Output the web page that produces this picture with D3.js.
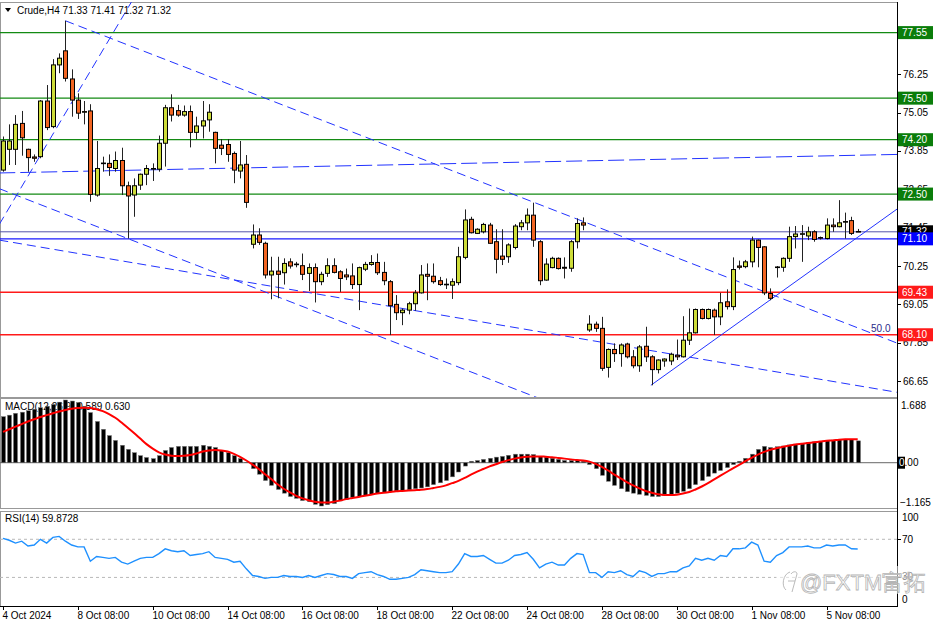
<!DOCTYPE html>
<html><head><meta charset="utf-8">
<script src="https://cdn.jsdelivr.net/npm/d3@7"></script>
<style>body{margin:0;background:#fff;}svg{display:block;font-family:"Liberation Sans",Arial,sans-serif;}</style>
</head><body><svg id="c" width="936" height="624"></svg>
<script>
// ---------- DATA ----------
const openV = [73.25,73.90,73.90,74.71,73.90,73.66,73.67,75.41,74.61,76.54,76.98,76.10,75.44,75.06,75.10,72.47,73.46,73.46,73.30,73.55,72.76,72.47,72.78,73.12,73.28,73.28,74.09,75.20,75.11,74.97,75.08,74.43,74.63,74.82,74.43,74.03,74.05,73.77,73.22,73.43,70.93,71.22,70.96,69.97,70.09,70.04,70.38,70.30,70.26,70.02,70.20,69.76,70.02,70.26,70.07,69.97,69.94,69.67,70.15,70.30,70.36,70.05,69.76,69.05,68.79,68.87,69.07,69.41,69.99,69.93,69.79,69.67,69.65,69.73,70.52,71.71,71.27,71.32,71.53,71.01,70.56,70.54,70.83,71.48,71.60,71.84,71.01,69.81,70.20,70.49,70.21,70.18,71.01,71.60,68.25,68.43,68.30,67.08,67.64,67.51,67.81,67.41,67.13,67.74,67.41,67.01,67.28,67.28,67.46,67.41,67.93,68.16,68.89,68.61,68.87,68.66,69.13,68.98,70.25,70.23,70.38,71.06,70.85,69.39,70.21,70.21,70.49,71.17,71.25,71.19,71.32,71.14,71.11,71.53,71.48,71.63,71.67,71.33];
const highV = [74.30,74.68,74.97,75.10,73.92,73.74,75.44,75.91,76.72,76.90,77.92,76.40,75.65,75.41,75.31,74.16,73.67,73.74,73.83,73.95,72.89,72.99,73.14,73.41,73.46,74.33,75.29,75.62,75.29,75.27,75.27,74.92,75.41,75.31,74.45,74.22,74.22,73.83,74.16,73.72,71.55,71.43,71.01,70.54,70.54,70.49,70.49,70.38,70.64,70.33,70.33,70.07,70.49,70.49,70.12,70.17,70.33,70.23,70.38,70.59,70.64,70.38,69.81,69.34,68.92,69.13,69.50,70.28,70.33,70.33,69.91,69.86,69.86,70.85,72.02,71.79,71.43,71.60,71.60,71.40,71.40,70.96,71.56,71.69,72.05,72.23,71.06,70.49,70.54,70.52,70.52,71.06,71.74,71.77,68.71,68.51,68.66,67.67,67.83,67.83,67.85,67.62,67.78,68.35,67.46,67.33,67.36,67.54,67.95,68.68,68.92,68.92,68.92,68.92,68.92,69.41,69.52,70.52,70.42,70.44,71.17,71.08,70.87,69.55,70.25,70.52,71.48,71.50,71.53,71.48,71.37,71.17,71.74,71.74,72.31,71.92,71.79,71.41];
const lowV = [73.20,73.41,73.41,73.70,73.20,73.51,73.62,74.50,74.56,76.28,76.02,74.92,74.85,74.68,72.26,72.42,73.20,73.07,73.20,72.47,71.11,71.79,72.63,72.78,72.91,73.20,73.36,74.77,74.92,74.92,73.96,74.22,74.24,74.45,73.46,73.72,73.51,72.84,72.99,72.07,70.80,70.91,69.86,69.21,69.24,69.67,70.17,70.21,69.81,69.47,69.11,69.65,69.91,70.02,69.44,69.81,69.53,68.87,70.09,70.26,69.97,69.65,68.09,68.56,68.40,68.74,68.85,69.39,69.18,69.70,69.63,69.53,69.22,69.65,70.46,71.27,71.25,71.27,70.94,70.02,70.28,70.35,70.77,71.37,71.37,70.85,69.65,69.79,70.18,70.14,69.86,70.07,70.80,71.37,68.19,68.19,66.97,66.76,67.25,67.10,67.36,67.05,66.94,67.25,66.52,66.89,67.10,67.15,67.31,67.39,67.78,68.14,68.58,68.58,68.09,68.40,68.89,68.87,70.14,70.18,70.21,70.21,69.34,69.18,69.89,70.07,70.38,70.80,70.38,71.06,71.01,71.08,71.08,71.32,71.46,71.11,71.22,71.32];
const closeV = [74.16,74.16,74.68,74.26,73.64,73.62,75.41,74.58,76.54,76.75,76.12,75.44,75.03,75.08,72.49,73.30,73.47,73.33,73.55,72.76,72.44,72.76,73.12,73.30,73.30,74.09,75.20,74.97,74.97,75.08,74.43,74.63,74.79,75.06,73.93,73.93,73.74,73.25,73.41,72.24,71.22,70.99,69.97,70.09,69.99,70.33,70.25,70.31,69.99,70.20,69.76,69.99,70.26,70.05,69.86,69.91,69.67,70.20,70.30,70.36,70.04,69.79,69.01,68.79,68.87,69.07,69.41,69.97,69.93,69.76,69.67,69.68,69.76,70.54,71.69,71.29,71.40,71.55,70.96,70.46,70.46,70.91,71.50,71.60,71.84,71.06,69.79,70.31,70.49,70.17,70.18,71.01,71.58,71.53,68.43,68.30,67.05,67.64,67.51,67.78,67.41,67.13,67.72,67.41,67.01,67.31,67.34,67.49,67.41,67.93,68.16,68.89,68.61,68.89,68.66,69.10,68.98,70.14,70.21,70.38,71.06,70.83,69.41,69.24,70.22,70.49,71.17,71.25,71.26,71.32,71.08,71.13,71.53,71.48,71.60,71.64,71.27,71.32];
const macdHist = [1.24,1.28,1.33,1.36,1.40,1.44,1.48,1.52,1.57,1.63,1.688,1.66,1.62,1.52,1.35,1.11,0.90,0.73,0.60,0.47,0.36,0.27,0.19,0.14,0.11,0.19,0.33,0.41,0.44,0.44,0.44,0.44,0.47,0.44,0.41,0.33,0.27,0.19,0.11,0.01,-0.16,-0.31,-0.48,-0.61,-0.72,-0.82,-0.91,-0.96,-1.02,-1.05,-1.12,-1.165,-1.13,-1.10,-1.03,-0.99,-0.93,-0.91,-0.88,-0.85,-0.82,-0.81,-0.77,-0.76,-0.75,-0.73,-0.70,-0.68,-0.65,-0.59,-0.54,-0.48,-0.38,-0.25,-0.09,0.04,0.06,0.09,0.12,0.15,0.17,0.20,0.23,0.23,0.23,0.22,0.17,0.15,0.12,0.09,0.06,0.06,0.06,0.04,-0.05,-0.16,-0.34,-0.50,-0.61,-0.70,-0.78,-0.82,-0.85,-0.88,-0.91,-0.91,-0.88,-0.85,-0.82,-0.77,-0.70,-0.59,-0.48,-0.37,-0.28,-0.21,-0.13,-0.05,0.04,0.12,0.23,0.36,0.44,0.41,0.43,0.45,0.48,0.50,0.52,0.54,0.56,0.57,0.59,0.61,0.62,0.63,0.62,0.589];
const macdSignal = [0.83,0.90,0.97,1.04,1.11,1.17,1.23,1.28,1.33,1.38,1.42,1.45,1.47,1.48,1.47,1.44,1.39,1.31,1.21,1.08,0.94,0.80,0.65,0.50,0.38,0.28,0.22,0.19,0.18,0.19,0.21,0.25,0.30,0.33,0.34,0.33,0.30,0.24,0.16,0.06,-0.05,-0.17,-0.31,-0.44,-0.58,-0.70,-0.80,-0.89,-0.96,-1.01,-1.05,-1.07,-1.07,-1.05,-1.02,-0.98,-0.95,-0.92,-0.89,-0.86,-0.83,-0.81,-0.79,-0.77,-0.76,-0.75,-0.74,-0.73,-0.71,-0.68,-0.65,-0.61,-0.55,-0.49,-0.41,-0.32,-0.24,-0.17,-0.10,-0.04,0.02,0.07,0.11,0.14,0.16,0.17,0.17,0.16,0.15,0.13,0.11,0.09,0.07,0.06,0.03,-0.03,-0.11,-0.21,-0.32,-0.42,-0.52,-0.61,-0.69,-0.76,-0.81,-0.85,-0.87,-0.87,-0.86,-0.83,-0.79,-0.72,-0.64,-0.55,-0.45,-0.35,-0.25,-0.15,-0.06,0.04,0.13,0.22,0.29,0.35,0.39,0.43,0.46,0.49,0.51,0.53,0.55,0.57,0.59,0.60,0.62,0.63,0.63,0.630];
const rsiV = [71,69,66,68,63,64,70,66,72,73,68,64,62,62,47,52,51,50,51,46,44,47,50,51,51,55,60,58,57,58,53,54,55,57,51,50,49,46,47,39,32,31,29,30,30,32,31,31,30,32,30,32,34,33,31,31,29,34,35,36,33,31,28,28,29,30,33,38,37,36,35,35,36,44,55,52,52,53,49,45,45,48,53,54,56,49,40,44,46,43,43,50,55,54,35,35,30,36,35,37,33,31,37,35,31,34,34,36,36,40,42,50,48,50,48,53,52,60,60,61,67,64,47,46,53,56,62,62,62,63,61,61,64,63,64,64,60,59.8728];
const xTickIdx = [0,12,24,36,48,60,72,84,96,108,120,132];
const xTickLabels = ["4 Oct 2024","8 Oct 08:00","10 Oct 08:00","14 Oct 08:00","16 Oct 08:00","18 Oct 08:00","22 Oct 08:00","24 Oct 08:00","28 Oct 08:00","30 Oct 08:00","1 Nov 08:00","5 Nov 08:00"];
const priceTicks = [66.65,67.85,69.05,70.25,71.45,72.65,73.85,75.05,76.25,77.45];
const resistanceLevels = [77.55,75.50,74.20,72.50];
const supportLevels = [69.43,68.10];
const pivotLevel = 71.10;
const bidPrice = 71.32;
const macdTicks = [1.688,0.00,-1.165];
const rsiTicks = [100,70,30,0];
const rsiLevels = [70,30];
// trendlines: [barIndex, price] pairs
const dashedLines = [
  [[10,77.92],[143.3,67.84]],
  [[-0.6,71.55],[23,79.3]],
  [[-0.6,73.16],[143.3,73.74]],
  [[-0.6,72.67],[92,65.65]],
  [[-0.6,71.06],[143.3,66.30]]
];
const solidLines = [[[103.85,66.52],[143.3,72.03]]];
const fibLabel = {idx:140.7, price:68.20, text:"50.0"};

// ---------- SETUP ----------
const svg = d3.select("#c");
const axisX = 897, FS = 10;
const x = d3.scaleLinear().domain([0, 143.3]).range([3, axisX]);
const yP = d3.scaleLinear().domain([66.153, 78.476]).range([397, 3]);
const yM = d3.scaleLinear().domain([-1.165, 1.688]).range([506, 400]);
const yR = d3.scaleLinear().domain([0, 100]).range([606, 510.7]);
const BULL = "#cddc39", BEAR = "#f26522";
const fmt2 = d3.format(".2f");

const defs = svg.append("defs");
[["cm",2,397],["cd",398,508],["cr",511,606]].forEach(([id,t,b])=>{
  defs.append("clipPath").attr("id",id).append("rect").attr("x",0).attr("y",t).attr("width",axisX).attr("height",b-t);
});

// panel frames
svg.append("rect").attr("x",0.5).attr("y",2.5).attr("width",axisX).attr("height",395).attr("fill","none").attr("stroke","#999");
svg.append("rect").attr("x",0.5).attr("y",398.5).attr("width",axisX).attr("height",110).attr("fill","none").attr("stroke","#999");
svg.append("rect").attr("x",0.5).attr("y",511.5).attr("width",axisX).attr("height",95).attr("fill","none").attr("stroke","#999");

// ---------- MAIN PANEL ----------
const gm = svg.append("g").attr("clip-path","url(#cm)");
resistanceLevels.forEach(p=>gm.append("line").attr("x1",0).attr("x2",axisX).attr("y1",yP(p)).attr("y2",yP(p)).attr("stroke","#138a13").attr("stroke-width",1.3));
supportLevels.forEach(p=>gm.append("line").attr("x1",0).attr("x2",axisX).attr("y1",yP(p)).attr("y2",yP(p)).attr("stroke","#ff1a1a").attr("stroke-width",1.3));
gm.append("line").attr("x1",0).attr("x2",axisX).attr("y1",yP(bidPrice)).attr("y2",yP(bidPrice)).attr("stroke","#5555aa").attr("stroke-width",1);
gm.append("line").attr("x1",0).attr("x2",axisX).attr("y1",yP(pivotLevel)).attr("y2",yP(pivotLevel)).attr("stroke","#1a1aff").attr("stroke-width",1.3);

const lineGen = d3.line().x(d=>x(d[0])).y(d=>yP(d[1]));
dashedLines.forEach((l,k)=>gm.append("path").attr("d",lineGen(l)).attr("fill","none").attr("stroke","#2233ff").attr("stroke-width",1).attr("stroke-dasharray", k===2?"16,5":"9,5"));
solidLines.forEach(l=>gm.append("path").attr("d",lineGen(l)).attr("fill","none").attr("stroke","#2233ff").attr("stroke-width",1));
gm.append("text").attr("x",x(fibLabel.idx)).attr("y",yP(fibLabel.price)).attr("font-size",FS).attr("fill","#2a2a8a").attr("text-anchor","middle").text(fibLabel.text);

// candles
const idx = d3.range(openV.length);
gm.selectAll(".wick").data(idx).enter().append("line")
  .attr("x1",i=>Math.round(x(i))+0.5).attr("x2",i=>Math.round(x(i))+0.5)
  .attr("y1",i=>yP(highV[i])).attr("y2",i=>yP(lowV[i])).attr("stroke","#222").attr("stroke-width",1);
gm.selectAll(".body").data(idx).enter().append("rect")
  .attr("x",i=>Math.round(x(i))-1.5).attr("width",4)
  .attr("y",i=>yP(Math.max(openV[i],closeV[i])))
  .attr("height",i=>Math.max(0.6,Math.abs(yP(openV[i])-yP(closeV[i]))))
  .attr("fill",i=>closeV[i]>=openV[i]?BULL:BEAR).attr("stroke","#000").attr("stroke-width",1);

// header
const last = openV.length-1;
svg.append("path").attr("d","M5,8 L11,8 L8,12 Z").attr("fill","#000");
svg.append("text").attr("x",17).attr("y",14).attr("font-size",FS).attr("fill","#000")
  .text(`Crude,H4 ${fmt2(openV[last])} ${fmt2(highV[last])} ${fmt2(lowV[last])} ${fmt2(closeV[last])}`);

// ---------- MACD PANEL ----------
svg.append("text").attr("x",5).attr("y",410).attr("font-size",FS).attr("fill","#000")
  .text(`MACD(12,26,9) ${macdHist[last].toFixed(3)} ${macdSignal[last].toFixed(3)}`);
const gd = svg.append("g").attr("clip-path","url(#cd)");
gd.append("line").attr("x1",0).attr("x2",axisX).attr("y1",yM(0)).attr("y2",yM(0)).attr("stroke","#666");
gd.selectAll(".hb").data(idx).enter().append("rect")
  .attr("x",i=>Math.round(x(i))-1.5).attr("width",4)
  .attr("y",i=>Math.min(yM(0),yM(macdHist[i])))
  .attr("height",i=>Math.abs(yM(macdHist[i])-yM(0)))
  .attr("fill","#000").attr("stroke","#777").attr("stroke-width",0.5);
gd.append("path").datum(idx).attr("d",d3.line().x(i=>x(i)).y(i=>yM(macdSignal[i])).curve(d3.curveMonotoneX))
  .attr("fill","none").attr("stroke","#ff0000").attr("stroke-width",2);

// ---------- RSI PANEL ----------
const gr = svg.append("g").attr("clip-path","url(#cr)");
rsiLevels.forEach(v=>gr.append("line").attr("x1",0).attr("x2",axisX).attr("y1",yR(v)).attr("y2",yR(v)).attr("stroke","#b8b8b8").attr("stroke-dasharray","3,3"));
gr.append("path").datum(idx).attr("d",d3.line().x(i=>x(i)).y(i=>yR(rsiV[i])))
  .attr("fill","none").attr("stroke","#1e90ff").attr("stroke-width",1.4);
svg.append("text").attr("x",5).attr("y",522).attr("font-size",FS).attr("fill","#000")
  .text(`RSI(14) ${rsiV[last].toFixed(4)}`);

// ---------- AXES ----------
svg.append("line").attr("x1",axisX+0.5).attr("x2",axisX+0.5).attr("y1",2).attr("y2",607).attr("stroke","#000");
svg.append("line").attr("x1",0).attr("x2",axisX+1).attr("y1",606.5).attr("y2",606.5).attr("stroke","#000");

priceTicks.forEach(v=>{
  const yy = yP(v);
  svg.append("line").attr("x1",axisX).attr("x2",axisX+4).attr("y1",Math.round(yy)+0.5).attr("y2",Math.round(yy)+0.5).attr("stroke","#000");
  svg.append("text").attr("x",903).attr("y",yy).attr("dy","0.35em").attr("font-size",FS).attr("fill","#000").text(fmt2(v));
});

function priceBox(p, color, textColor){
  const yy = yP(p);
  svg.append("rect").attr("x",898).attr("y",yy-6.5).attr("width",35).attr("height",13).attr("fill",color);
  svg.append("text").attr("x",902).attr("y",yy).attr("dy","0.35em").attr("font-size",FS).attr("fill",textColor).text(fmt2(p));
}
resistanceLevels.forEach(p=>priceBox(p,"#0a7d0a","#fff"));
supportLevels.forEach(p=>priceBox(p,"#ff1a1a","#fff"));
priceBox(bidPrice,"#000","#fff");
priceBox(pivotLevel,"#0000ff","#fff");

// MACD axis labels
svg.append("text").attr("x",901).attr("y",405.5).attr("dy","0.35em").attr("font-size",FS).text(d3.format(".3f")(macdTicks[0]));
svg.append("text").attr("x",900).attr("y",502).attr("dy","0.35em").attr("font-size",FS).text(d3.format(".3f")(macdTicks[2]));
svg.append("rect").attr("x",898).attr("y",yM(macdTicks[1])-6).attr("width",7).attr("height",12).attr("fill","#000");
const zt = svg.append("text").attr("x",899).attr("y",yM(macdTicks[1])).attr("dy","0.35em").attr("font-size",FS);
zt.append("tspan").attr("fill","#fff").text("0");
zt.append("tspan").attr("fill","#000").text(".00");

// RSI axis labels
const rsiLabelY = {100:517.5, 70:539.5, 30:576.5, 0:599.5};
rsiTicks.forEach(v=>{
  if(v===70||v===30) svg.append("line").attr("x1",axisX).attr("x2",axisX+4).attr("y1",Math.round(yR(v))+0.5).attr("y2",Math.round(yR(v))+0.5).attr("stroke","#000");
  svg.append("text").attr("x",902).attr("y",rsiLabelY[v]).attr("dy","0.35em").attr("font-size",FS).text(v);
});

// x axis
xTickIdx.forEach((t,k)=>{
  const xx = Math.round(x(t))+0.5;
  svg.append("line").attr("x1",xx).attr("x2",xx).attr("y1",606).attr("y2",610).attr("stroke","#000");
  svg.append("text").attr("x",xx-1).attr("y",619).attr("font-size",FS).attr("fill","#000").text(xTickLabels[k]);
});

// watermark
svg.append("rect").attr("x",776).attr("y",566).attr("width",160).attr("height",28).attr("fill","#fff").attr("opacity",0.55);
svg.append("path").attr("d","M790,572 C783,574 781,586 786,590 M788,581 L795,581 M791,574 C793,571 797,571 797,574 L792,592")
  .attr("fill","none").attr("stroke","#bbb").attr("stroke-width",1);
svg.append("text").attr("x",800).attr("y",590).attr("font-size",22).attr("fill","none").attr("stroke","#b5b5b5").attr("stroke-width",0.8)
  .text("@FXTM富拓");
</script></body></html>
